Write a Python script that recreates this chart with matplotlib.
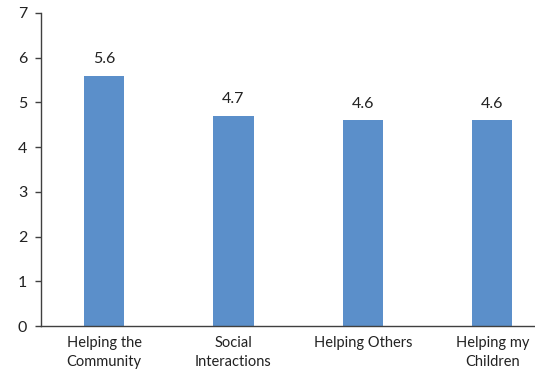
import matplotlib
matplotlib.use("Agg")
import matplotlib.pyplot as plt

categories = ["Helping the\nCommunity", "Social\nInteractions", "Helping Others", "Helping my\nChildren"]
values = [5.6, 4.7, 4.6, 4.6]
value_labels = ["5.6", "4.7", "4.6", "4.6"]
y_ticks = [0, 1, 2, 3, 4, 5, 6, 7]

plt.rcParams["font.family"] = ["Lato", "DejaVu Sans"]

fig = plt.figure(figsize=(5.35, 3.71), dpi=100)
ax = fig.add_axes([41 / 535, 45 / 371, 1 - 41 / 535, (326 - 13) / 371])

bar_color = "#5B8FCA"
axis_color = "#404040"
x = list(range(len(categories)))
bars = ax.bar(x, values, width=0.31, color=bar_color, zorder=2)

for xi, v, lab in zip(x, values, value_labels):
    ax.annotate(lab, (xi, v), xytext=(0, 7), textcoords="offset points",
                ha="center", va="bottom", fontsize=11.5, color="#222222")

ax.set_xlim(-0.487, 3.33)
ax.set_ylim(0, 7)
ax.set_yticks(y_ticks)
ax.set_yticklabels([str(t) for t in y_ticks], fontsize=11.5, color="#222222")
ax.set_xticks(x)
ax.set_xticklabels(categories, fontsize=10.5, color="#222222", linespacing=1.45)

ax.spines["top"].set_visible(False)
ax.spines["right"].set_visible(False)
for s in ("left", "bottom"):
    ax.spines[s].set_color(axis_color)
    ax.spines[s].set_linewidth(1.0)
ax.tick_params(axis="y", length=4, width=1, color=axis_color, pad=6)
ax.tick_params(axis="x", length=0, pad=7)

fig.savefig("out.png", dpi=100)
